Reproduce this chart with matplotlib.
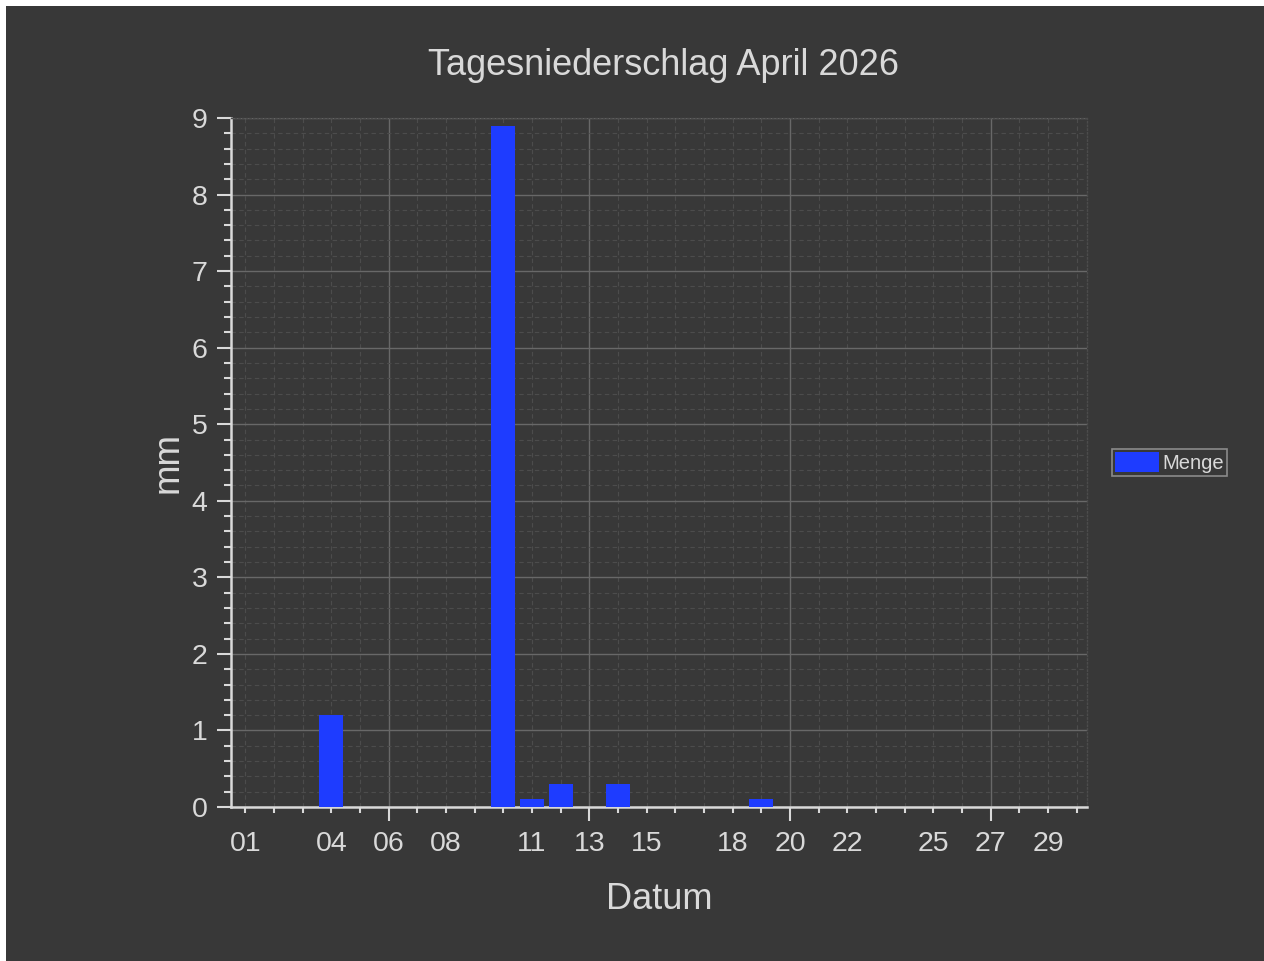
import matplotlib
matplotlib.use("Agg")
import matplotlib.pyplot as plt
import matplotlib.patches as mpatches
from matplotlib.ticker import FixedLocator, FuncFormatter, MultipleLocator

# Data: precipitation per day in April 2026 (days without rain are left out)
rain_days = [4, 10, 11, 12, 14, 19]
rain_mm = [1.2, 8.9, 0.1, 0.3, 0.3, 0.1]

month_days = list(range(1, 31))
label_days = [1, 4, 6, 8, 11, 13, 15, 18, 20, 22, 25, 27, 29]
mondays = [6, 13, 20, 27]

title = "Tagesniederschlag April 2026"
x_label = "Datum"
y_label = "mm"
series_name = "Menge"

# Colours
bg = "#383838"
fg = "#d9d9d9"
bar_color = "#1e3cff"
grid_major = "#686868"
grid_minor = "#4c4c4c"

plt.rcParams["font.family"] = ["Liberation Sans", "DejaVu Sans"]

W, H = 1264, 961
fig = plt.figure(figsize=(W / 100, H / 100), dpi=100, facecolor="white")
# dark canvas with a thin white strip on top and left
fig.patches.append(mpatches.Rectangle((6 / W, 0), 1, 1 - 6 / H, transform=fig.transFigure,
                                      facecolor=bg, edgecolor="none", zorder=-10))

ax = fig.add_axes([231 / W, 1 - 807 / H, (1087 - 231) / W, (807 - 118) / H])
ax.set_facecolor(bg)

ax.bar(rain_days, rain_mm, width=0.84, color=bar_color, label=series_name, zorder=3)

ax.set_xlim(0.5, 30.36)
ax.set_ylim(0, 9)

# x axis: long ticks on Mondays, short ticks every day, labels on selected days
ax.xaxis.set_major_locator(FixedLocator(mondays))
ax.xaxis.set_minor_locator(FixedLocator(month_days))
ax.xaxis.set_major_formatter(FuncFormatter(lambda v, p: f"{int(round(v)):02d}"))
ax.xaxis.set_minor_formatter(
    FuncFormatter(lambda v, p: f"{int(round(v)):02d}" if int(round(v)) in label_days else ""))

ax.yaxis.set_major_locator(MultipleLocator(1))
ax.yaxis.set_minor_locator(MultipleLocator(0.2))

ax.tick_params(axis="x", which="major", length=10, width=1.5, color=fg, labelcolor=fg,
               labelsize=20.5, pad=7.5)
ax.tick_params(axis="x", which="minor", length=4.5, width=1.5, color=fg, labelcolor=fg,
               labelsize=20.5, pad=13)
ax.tick_params(axis="y", which="major", length=10, width=1.5, color=fg, labelcolor=fg,
               labelsize=20.5, pad=7)
ax.tick_params(axis="y", which="minor", length=5, width=1.5, color=fg)

ax.grid(which="major", color=grid_major, linewidth=1.0, linestyle="-", zorder=0)
ax.grid(which="minor", color=grid_minor, linewidth=0.8, linestyle=(0, (4, 3)), zorder=0)
ax.set_axisbelow(True)

for side in ("left", "bottom"):
    ax.spines[side].set_color(fg)
    ax.spines[side].set_linewidth(1.8)
for side in ("top", "right"):
    ax.spines[side].set_color(grid_minor)
    ax.spines[side].set_linewidth(1.0)
    ax.spines[side].set_linestyle(":")

ax.set_title(title, color=fg, fontsize=26, pad=31, x=0.505)
ax.set_xlabel(x_label, color=fg, fontsize=26, labelpad=18)
ax.set_ylabel(y_label, color=fg, fontsize=26.5, labelpad=4)

leg = ax.legend(loc="center left", bbox_to_anchor=(1.029, 0.5), fontsize=14.5,
                facecolor=bg, edgecolor="#8a8a8a", framealpha=1, fancybox=False,
                handlelength=2.2, handleheight=1.1, handletextpad=0.15,
                borderpad=0.15, borderaxespad=0)
leg.get_frame().set_linewidth(1.2)
for t in leg.get_texts():
    t.set_color(fg)

fig.savefig("out.png", dpi=100, facecolor=fig.get_facecolor())
